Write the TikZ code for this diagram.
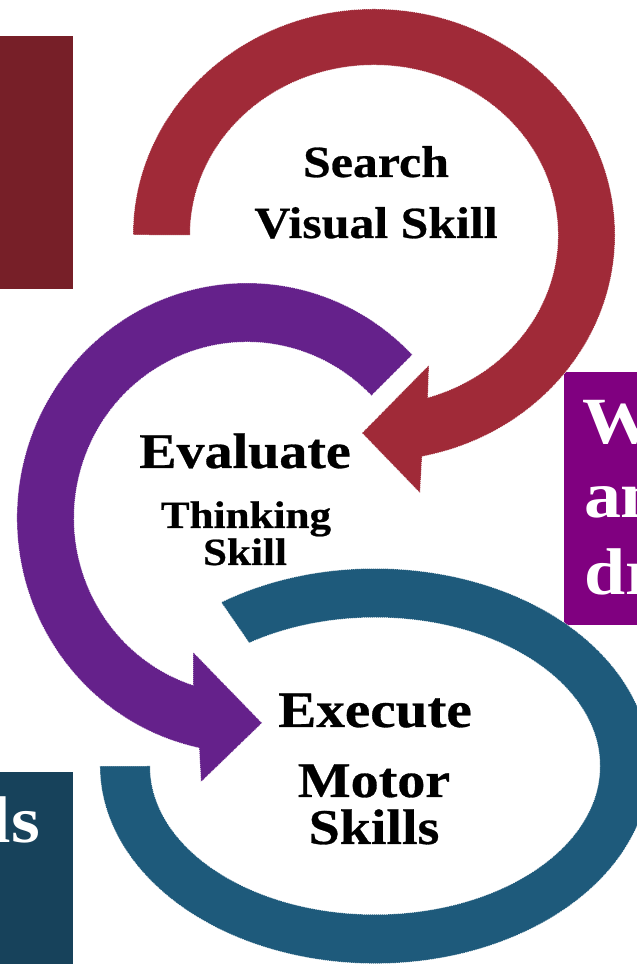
\documentclass[tikz,border=0pt]{standalone}
\usepackage{fontspec}
\newfontfamily\gf[FakeStretch=1.12, FakeBold=0.6]{Liberation Serif}
\newfontfamily\gs[FakeStretch=1.12]{Liberation Serif}
\definecolor{redring}{HTML}{A02A38}
\definecolor{redrect}{HTML}{771F28}
\definecolor{purplering}{HTML}{65218B}
\definecolor{purplerect}{HTML}{800080}
\definecolor{tealring}{HTML}{1E5A7B}
\definecolor{tealrect}{HTML}{17425B}
\begin{document}
\begin{tikzpicture}[x=1pt,y=1pt,
  ring/.style={draw=white, line width=0.5pt, dash pattern=on 1pt off 1pt},
  lbl/.style={inner sep=0pt, outer sep=0pt, text=black, anchor=base},
  big/.style={font=\gf\bfseries\fontsize{51}{55}\selectfont},
  bigb/.style={font=\gf\bfseries\fontsize{50}{55}\selectfont},
  mid/.style={font=\gf\bfseries\fontsize{44.5}{50}\selectfont},
  small/.style={font=\gf\bfseries\fontsize{38.5}{42}\selectfont},
  side/.style={inner sep=0pt, outer sep=0pt, text=white, font=\gs\bfseries\fontsize{66}{70}\selectfont}]
\useasboundingbox (0,0) rectangle (637,964);
\clip (0,0) rectangle (637,964);
% side boxes
\fill[redrect] (0,928) rectangle (73,675);
\fill[purplerect] (564,592) rectangle (637,339);
\fill[tealrect] (0,192) rectangle (73,-1);
% red ring with arrow head
\path[fill=redring, ring] (133,729)
  arc[start angle=180, end angle=-78.5, x radius=241, y radius=226]
  -- (420,471) -- (362,531) -- (429,599) -- (427.8,566.4)
  arc[start angle=-73, end angle=180, x radius=184, y radius=170] -- cycle;
% purple ring with arrow head
\path[fill=purplering, ring] (412.4,609.2)
  arc[start angle=44, end angle=258, x radius=230, y radius=235]
  -- (201,182) -- (262,241) -- (193,312) -- (193,278.8)
  arc[start angle=251.8, end angle=44, x radius=173, y radius=176] -- cycle;
% teal ring
\path[fill=tealring, ring] (221.2,361.7)
  arc[start angle=124, end angle=-180, x radius=275, y radius=197.5]
  -- (150,198)
  arc[start angle=-180, end angle=124, x radius=225, y radius=148.5] -- cycle;
% labels
\node[lbl, mid] (search) at (376,787) {Search};
\node[lbl, mid] (visual) at (376,726) {Visual Skill};
\node[lbl, bigb] (evaluate) at (245,496) {Evaluate};
\node[lbl, small] (thinking) at (246,436) {Thinking};
\node[lbl, small] (tskill) at (245,399) {Skill};
\node[lbl, big] (execute) at (375,237) {Execute};
\node[lbl, bigb] (motor) at (374,167) {Motor};
\node[lbl, bigb] (skills) at (374,120) {Skills};
% side texts, cut by the picture edge as in the reference
\node[side, anchor=base west] (w) at (582,520) {W};
\node[side, anchor=base west] (an) at (584,446) {an};
\node[side, anchor=base west] (dr) at (584,369) {dr};
\node[side, anchor=base east] (ls) at (40,121) {ls};
\end{tikzpicture}
\end{document}
